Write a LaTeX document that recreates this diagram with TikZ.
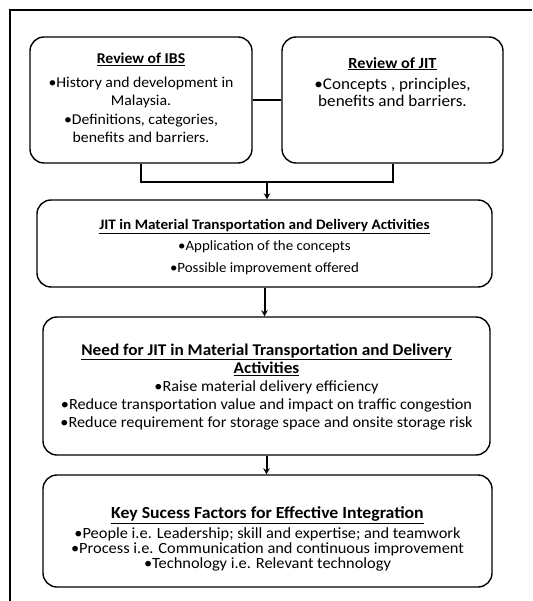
\documentclass[tikz,border=0pt]{standalone}
\usepackage{fontspec}
\setmainfont{Carlito}[FakeStretch=1.05]
\usetikzlibrary{arrows.meta}
\newcommand{\ttlfont}[1]{\fontsize{#1}{18}\selectfont\bfseries}
\begin{document}
\begin{tikzpicture}[x=1pt,y=-1pt,
  box/.style={draw, line width=1.4pt, rounded corners=14pt, inner sep=0pt},
  txt/.style={align=center, inner sep=0pt},
  conn/.style={line width=2pt},
  arr/.style={line width=2pt,-{Stealth[length=6pt,width=6.5pt]}}]
\useasboundingbox (0,0) rectangle (532,601);
\draw[line width=2.6pt] (532,10) -- (10,10) -- (10,601);
% boxes
\node[box, minimum width=222pt, minimum height=126pt] (ibs) at (141,100) {};
\node[box, minimum width=221pt, minimum height=126pt] (jit) at (392.5,100) {};
\node[box, minimum width=455pt, minimum height=87pt] (app) at (264.5,243.5) {};
\node[box, minimum width=447pt, minimum height=138pt] (need) at (266.5,386) {};
\node[box, minimum width=449pt, minimum height=112pt] (key) at (267.5,531) {};
% texts
\node[txt, font=\fontsize{15}{18.5}\selectfont] (ibst) at (141,98) {\textbf{\underline{Review of IBS}}\\[5pt]•History and development in\\Malaysia.\\•Definitions, categories,\\benefits and barriers.};
\node[txt, font=\fontsize{16.3}{17.5}\selectfont] (jitt) at (392.5,82) {{\ttlfont{15.5}\underline{Review of JIT}}\\[3.5pt]•Concepts , principles,\\benefits and barriers.};
\node[txt, font=\fontsize{14.2}{21.5}\selectfont] (appt) at (264.5,247) {{\ttlfont{14.5}\underline{JIT in Material Transportation and Delivery Activities}}\\•Application of the concepts\\•Possible improvement offered};
\node[txt, font=\fontsize{15.5}{18}\selectfont] (needt) at (266.5,387) {{\ttlfont{16.4}\underline{Need for JIT in Material Transportation and Delivery}}\\{\ttlfont{16.4}\underline{Activities}}\\•Raise material delivery efficiency\\•Reduce transportation value and impact on traffic congestion\\•Reduce requirement  for storage space and onsite storage risk};
\node[txt, font=\fontsize{15.6}{15}\selectfont] (keyt) at (267.5,539) {{\ttlfont{16.9}\underline{Key Sucess Factors for Effective Integration}}\\[3pt]•People i.e. Leadership; skill and expertise; and teamwork\\•Process i.e. Communication and continuous improvement\\•Technology i.e. Relevant technology};
% connectors
\coordinate (join) at (267,182);
\draw[conn] (ibs.east) -- (jit.west);
\draw[conn] (ibs.south) -- (ibs.south |- join) -- (jit.south |- join) -- (jit.south);
\draw[arr] (join) -- (join |- app.north);
\draw[arr] (app.south) -- (app.south |- need.north);
\draw[arr] (need.south) -- (need.south |- key.north);
\end{tikzpicture}
\end{document}
